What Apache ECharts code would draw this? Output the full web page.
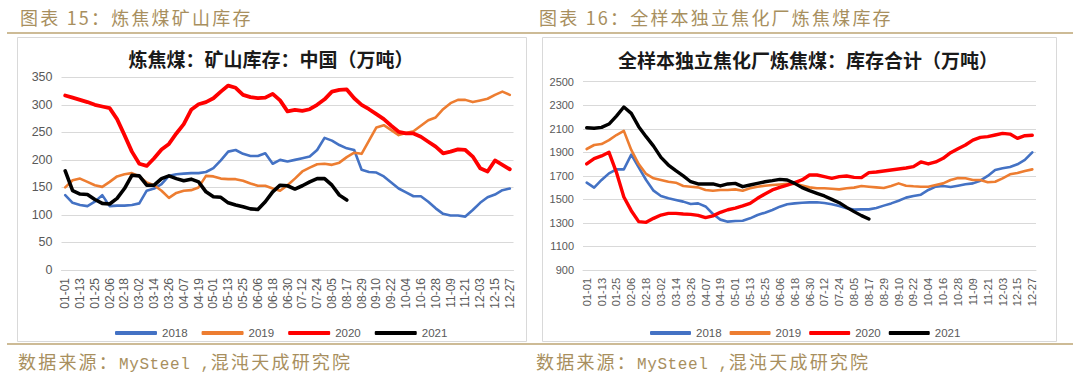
<!DOCTYPE html>
<html><head><meta charset="utf-8">
<script src="https://cdn.jsdelivr.net/npm/echarts/dist/echarts.min.js"></script>
<style>
html,body{margin:0;padding:0;background:#fff;}
#wrap{position:relative;width:1080px;height:374px;overflow:hidden;background:#fff;}
#chart{position:absolute;left:0;top:0;width:1080px;height:374px;}
.hd{position:absolute;font-family:"Noto Sans CJK SC";font-size:18px;line-height:20px;color:#A88F5E;letter-spacing:2.2px;white-space:nowrap;z-index:2;}
.mono{font-family:"Liberation Mono";font-size:16px;letter-spacing:0.6px;}
</style></head>
<body>
<div id="wrap">
  <div id="chart"></div>
  <div class="hd" style="left:20px;top:7px;">图表 15：炼焦煤矿山库存</div>
  <div class="hd" style="left:539px;top:7px;">图表 16：全样本独立焦化厂炼焦煤库存</div>
  <div class="hd" style="left:18px;top:351px;">数据来源：<span class="mono">MySteel ,</span>混沌天成研究院</div>
  <div class="hd" style="left:536px;top:351px;">数据来源：<span class="mono">MySteel ,</span>混沌天成研究院</div>
</div>
<script>
// ---- categories (every 6 days; every other one labelled) ----
const categories = ["01-01","01-07","01-13","01-19","01-25","01-31","02-06","02-12","02-18","02-24",
"03-02","03-08","03-14","03-20","03-26","04-01","04-07","04-13","04-19","04-25",
"05-01","05-07","05-13","05-19","05-25","05-31","06-06","06-12","06-18","06-24",
"06-30","07-06","07-12","07-18","07-24","07-30","08-05","08-11","08-17","08-23",
"08-29","09-04","09-10","09-16","09-22","09-28","10-04","10-10","10-16","10-22",
"10-28","11-03","11-09","11-15","11-21","11-27","12-03","12-09","12-15","12-21","12-27"];
const seriesNames = ["2018","2019","2020","2021"];

// ---- chart 15: 炼焦煤 矿山库存 (万吨) ----
const mine2018 = [136,122,118,116,124,136,116,117,117,118,121,144,148,156,171,174,175,176,176,178,
185,199,215,218,211,207,207,212,193,200,197,200,203,206,218,240,235,227,221,218,
182,178,177,170,159,148,141,134,134,124,112,102,99,99,97,109,122,132,137,145,148];
const mine2019 = [150,163,166,160,154,151,160,170,174,176,170,159,154,144,131,140,144,145,150,171,
170,166,165,165,162,157,153,153,148,144,154,166,179,186,192,193,191,195,205,213,
211,235,259,263,254,245,249,252,262,272,277,292,303,309,309,305,308,311,318,324,318];
const mine2020 = [317,313,309,305,300,297,294,274,245,215,193,189,203,219,229,248,265,291,301,305,
312,324,335,331,318,314,312,313,320,308,288,291,289,292,300,310,324,327,328,312,
300,292,283,274,262,251,248,248,242,233,224,212,215,219,218,206,185,179,199,191,183];
const mine2021 = [180,144,138,137,128,121,120,130,148,172,171,154,154,166,171,166,162,165,160,142,
133,132,122,118,115,111,110,124,142,154,153,147,153,160,166,166,154,136,127];
const mineYTicks = {min:0, max:350, interval:50};

// ---- chart 16: 全样本独立焦化厂 炼焦煤库存合计 (万吨) ----
const coke2018 = [1642,1600,1665,1721,1755,1755,1880,1772,1665,1574,1529,1509,1495,1481,1461,1466,1440,1376,1328,1311,
1316,1319,1339,1367,1387,1410,1438,1458,1466,1472,1475,1475,1469,1458,1444,1424,1413,1415,1415,1427,
1447,1466,1489,1515,1529,1540,1580,1608,1614,1605,1616,1628,1636,1659,1699,1750,1764,1775,1798,1835,1900];
const coke2019 = [1928,1962,1970,2004,2047,2082,1920,1800,1716,1679,1665,1650,1642,1614,1608,1602,1580,1574,1580,1580,
1585,1574,1594,1608,1616,1622,1627,1632,1632,1618,1602,1594,1594,1591,1585,1594,1600,1614,1608,1602,
1597,1614,1636,1616,1611,1608,1608,1622,1636,1665,1682,1679,1665,1665,1645,1650,1679,1713,1724,1741,1755];
const coke2020 = [1801,1846,1869,1900,1730,1520,1404,1311,1305,1339,1367,1381,1381,1376,1373,1364,1345,1360,1390,1412,
1426,1445,1466,1509,1546,1580,1602,1622,1642,1665,1707,1707,1693,1679,1693,1699,1687,1685,1727,1733,
1741,1750,1758,1767,1778,1818,1801,1818,1849,1897,1931,1962,2004,2027,2033,2047,2061,2055,2019,2041,2045];
const coke2021 = [2109,2104,2112,2140,2208,2285,2231,2118,2033,1953,1857,1792,1744,1699,1650,1631,1631,1631,1614,1631,
1636,1608,1622,1636,1650,1659,1670,1665,1636,1600,1574,1551,1529,1500,1472,1432,1396,1362,1333];
const cokeYTicks = {min:900, max:2500, interval:200};

const colors = ["#4472C4","#ED7D31","#FF0000","#000000"];
const widths = [2.6,2.6,3.8,3.6];
const widthsR = [2.6,2.6,3.4,3.4];

const chart = echarts.init(document.getElementById('chart'), null, {renderer:'svg', width:1080, height:374});
const font = '"Liberation Sans", Arial, sans-serif';
const gridLine = '#D9D9D9';

function xAxis(gi, fs){
  return {type:'category', gridIndex:gi, data:categories, boundaryGap:true,
    axisLine:{show:true, lineStyle:{color:gridLine, width:1}}, axisTick:{show:false},
    axisLabel:{interval:1, rotate:90, color:'#595959', fontSize:fs, fontFamily:font, margin:8},
    splitLine:{show:false}};
}
function yAxis(gi, t, fs){
  return {type:'value', gridIndex:gi, min:t.min, max:t.max, interval:t.interval,
    axisLine:{show:false}, axisTick:{show:false},
    axisLabel:{color:'#595959', fontSize:fs, fontFamily:font, margin:9, formatter:v=>String(v)},
    splitLine:{show:true, lineStyle:{color:gridLine, width:1.2}}};
}
function line(name, data, color, w, idx){
  return {name:name, type:'line', data:data, xAxisIndex:idx, yAxisIndex:idx,
    showSymbol:false, symbol:'none', smooth:false, animation:false,
    lineStyle:{color:color, width:w, cap:'round', join:'round'}, itemStyle:{color:color},
    emphasis:{disabled:true}};
}

const mineSeries = [mine2018, mine2019, mine2020, mine2021];
const cokeSeries = [coke2018, coke2019, coke2020, coke2021];
const series = [];
seriesNames.forEach((n,i)=>series.push(line(n, mineSeries[i], colors[i], widths[i], 0)));
seriesNames.forEach((n,i)=>series.push(line(n, cokeSeries[i], colors[i], widthsR[i], 1)));

const legendBase = {orient:'horizontal', icon:'roundRect', itemHeight:4,
  textStyle:{color:'#595959', fontFamily:font, fontSize:11.5}, selectedMode:false, data:seriesNames};

chart.setOption({
  animation:false,
  backgroundColor:'transparent',
  title:[
    {text:'炼焦煤：矿山库存：中国（万吨）', left:271, top:49, textAlign:'center', padding:0,
      textStyle:{fontFamily:'"Noto Sans CJK SC"', fontSize:19, fontWeight:'bold', color:'#1a1a1a'}},
    {text:'全样本独立焦化厂炼焦煤：库存合计（万吨）', left:808, top:50, textAlign:'center', padding:0,
      textStyle:{fontFamily:'"Noto Sans CJK SC"', fontSize:19, fontWeight:'bold', color:'#1a1a1a'}}
  ],
  legend:[
    Object.assign({}, legendBase, {left:110, top:322, itemWidth:42, itemGap:14}),
    Object.assign({}, legendBase, {left:645, top:322, itemWidth:41, itemGap:8})
  ],
  grid:[
    {left:61.5, top:77.3, width:452, height:192.7, containLabel:false},
    {left:583, top:81.7, width:453, height:188.3, containLabel:false}
  ],
  xAxis:[xAxis(0,12), xAxis(1,11)],
  yAxis:[yAxis(0, mineYTicks, 12.5), yAxis(1, cokeYTicks, 11)],
  graphic:[
    {type:'line', silent:true, shape:{x1:7,y1:33,x2:1073,y2:33}, style:{stroke:'#CDBB96', lineWidth:2}},
    {type:'line', silent:true, shape:{x1:7,y1:344,x2:1073,y2:344}, style:{stroke:'#CDBB96', lineWidth:2}},
    {type:'rect', silent:true, z:-10, shape:{x:17.5,y:37.5,width:509,height:304}, style:{fill:'none', stroke:'#D9D9D9', lineWidth:1}},
    {type:'rect', silent:true, z:-10, shape:{x:542.5,y:37.5,width:514,height:304}, style:{fill:'none', stroke:'#D9D9D9', lineWidth:1}}
  ],
  series:series
});
</script>
</body></html>
